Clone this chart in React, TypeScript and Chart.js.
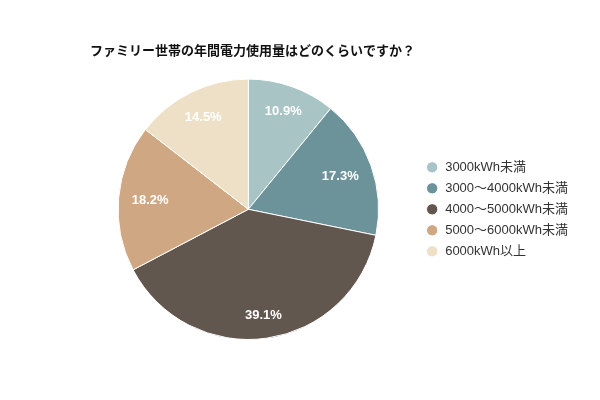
import React, { useEffect, useRef } from "react";
import { Chart, registerables, layouts } from "chart.js";

Chart.register(...registerables);

const titleText = "ファミリー世帯の年間電力使用量はどのくらいですか？";
const categories = [
  "3000kWh未満",
  "3000～4000kWh未満",
  "4000～5000kWh未満",
  "5000～6000kWh未満",
  "6000kWh以上",
];
const shares = [10.9, 17.3, 39.1, 18.2, 14.5];
const sliceColors = ["#a9c4c5", "#6b9399", "#62574e", "#cfa782", "#ede0c6"];

const FONT = '"Liberation Sans", Arial, "Noto Sans CJK JP", sans-serif';
const LEGEND_GAP = 11;
const LABEL_SIZE = 13;
const LABEL_INSET = 12.6;

const sliceLabelPlugin = {
  id: "sliceLabels",
  afterDatasetsDraw(chart: any) {
    const meta = chart.getDatasetMeta(0);
    const ctx = chart.ctx;
    ctx.save();
    ctx.fillStyle = "#ffffff";
    ctx.font = `bold ${LABEL_SIZE}px ${FONT}`;
    ctx.textAlign = "center";
    ctx.textBaseline = "middle";
    meta.data.forEach((arc: any, i: number) => {
      const { x, y, startAngle, endAngle, outerRadius } = arc.getProps(
        ["x", "y", "startAngle", "endAngle", "outerRadius"],
        true
      );
      const text = `${shares[i].toFixed(1)}%`;
      const w = ctx.measureText(text).width;
      const h = LABEL_SIZE * 1.2;
      const mid = (startAngle + endAngle) / 2;
      const cx = Math.cos(mid);
      const cy = Math.sin(mid);
      const extent = (w / 2) * Math.abs(cx) + (h / 2) * Math.abs(cy);
      const r = outerRadius - LABEL_INSET - extent;
      ctx.fillText(text, x + cx * r, y + cy * r);
    });
    ctx.restore();
  },
};

// blank layout box that keeps a small gap between the pie area and the legend
const legendGapPlugin = {
  id: "legendGap",
  beforeInit(chart: any) {
    const gapBox: any = {
      position: "right",
      weight: 500,
      fullSize: false,
      options: { display: false },
      width: 0,
      height: 0,
      left: 0,
      top: 0,
      right: 0,
      bottom: 0,
      isHorizontal() {
        return false;
      },
      update(_maxWidth: number, maxHeight: number) {
        this.width = LEGEND_GAP;
        this.height = maxHeight;
      },
      draw() {},
    };
    layouts.addBox(chart, gapBox);
  },
};

export default function App() {
  const canvasRef = useRef<HTMLCanvasElement | null>(null);

  useEffect(() => {
    if (!canvasRef.current) return;
    const chart = new Chart(canvasRef.current, {
      type: "pie",
      data: {
        labels: categories,
        datasets: [
          {
            data: shares,
            backgroundColor: sliceColors,
            borderColor: "#ffffff",
            borderWidth: 1,
          },
        ],
      },
      options: {
        responsive: true,
        maintainAspectRatio: false,
        animation: false,
        layout: { padding: { left: 90, right: 22, top: 34, bottom: 60 } },
        plugins: {
          title: {
            display: true,
            text: titleText,
            align: "start",
            color: "#111111",
            font: { family: FONT, size: 13, weight: "bold" },
            padding: { top: 10, bottom: 19 },
          },
          legend: {
            position: "right",
            fullSize: false,
            labels: {
              usePointStyle: true,
              pointStyle: "circle",
              boxWidth: 13,
              boxHeight: 8,
              padding: 8,
              color: "#333333",
              font: { family: FONT, size: 13 },
            },
          },
          tooltip: { enabled: false },
        },
      },
      plugins: [legendGapPlugin, sliceLabelPlugin],
    });
    return () => chart.destroy();
  }, []);

  return (
    <div style={{ position: "absolute", left: 0, top: 0, width: 600, height: 400, background: "#ffffff" }}>
      <canvas ref={canvasRef} />
    </div>
  );
}
